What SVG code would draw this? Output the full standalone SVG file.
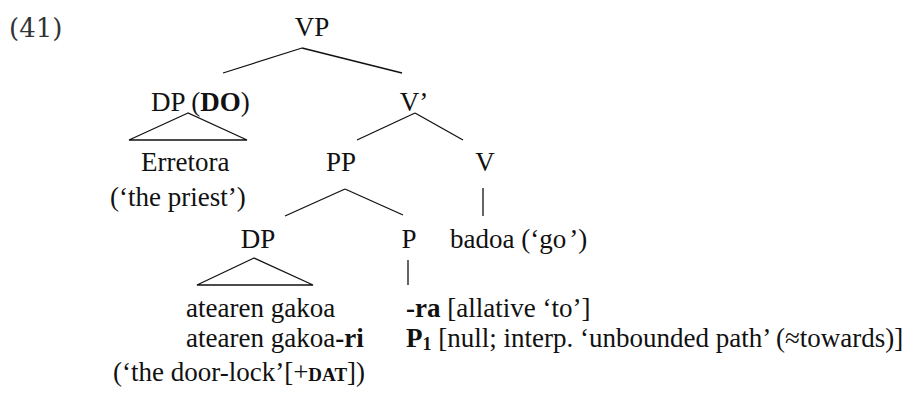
<svg xmlns="http://www.w3.org/2000/svg" width="908" height="394" viewBox="0 0 908 394">
<style>
text{font-family:"Liberation Serif",serif;font-size:27px;fill:#111}
text.num{font-family:"DejaVu Serif",serif;font-size:26px;fill:#333}
.b{font-weight:bold}
.sc{font-weight:bold;font-size:19px}
.sub{font-weight:bold;font-size:18px}
line,polygon{stroke:#111;stroke-width:1.3;fill:none}
</style>
<rect width="908" height="394" fill="#fff"/>
<text class="num" x="9" y="37">(41)</text>
<g id="connectors">
<line x1="223" y1="73" x2="302" y2="48"/>
<line x1="302" y1="48" x2="402" y2="73"/>
<polygon points="188,113 129,140 247,140"/>
<line x1="415" y1="113" x2="357" y2="140"/>
<line x1="415" y1="113" x2="463" y2="140"/>
<line x1="483" y1="188" x2="483" y2="216"/>
<line x1="345" y1="189" x2="285" y2="216"/>
<line x1="345" y1="189" x2="403" y2="215"/>
<polygon points="254,258 197,285 313,285"/>
<line x1="408" y1="260" x2="408" y2="285"/>
</g>
<g id="VP"><text x="312" y="36" text-anchor="middle">VP</text></g>
<g id="DP-DO"><text x="151" y="111">DP (<tspan class="b">DO</tspan>)</text></g>
<g id="Vbar"><text x="414" y="111" text-anchor="middle">V’</text></g>
<g id="Erretora"><text x="141" y="171">Erretora</text><text x="110" y="206">(‘the priest’)</text></g>
<g id="PP"><text x="341" y="171" text-anchor="middle">PP</text></g>
<g id="V"><text x="485" y="171" text-anchor="middle">V</text></g>
<g id="DP"><text x="258" y="248" text-anchor="middle">DP</text></g>
<g id="P"><text x="409" y="248" text-anchor="middle">P</text></g>
<g id="badoa"><text x="450" y="248">badoa (‘go<tspan dx="3">’</tspan>)</text></g>
<g id="DP-text">
<text x="186" y="317">atearen gakoa</text>
<text x="186" y="347">atearen gakoa<tspan class="b">-ri</tspan></text>
<text x="113" y="381">(‘the door-lock’[+<tspan class="sc">DAT</tspan>])</text>
</g>
<g id="P-text">
<text x="406" y="317"><tspan class="b">-ra</tspan> [allative ‘to’]</text>
<text x="406" y="347"><tspan class="b">P</tspan><tspan class="sub" dy="3">1</tspan><tspan dy="-3"> [null; interp. ‘unbounded path’ (≈towards)]</tspan></text>
</g>
</svg>
